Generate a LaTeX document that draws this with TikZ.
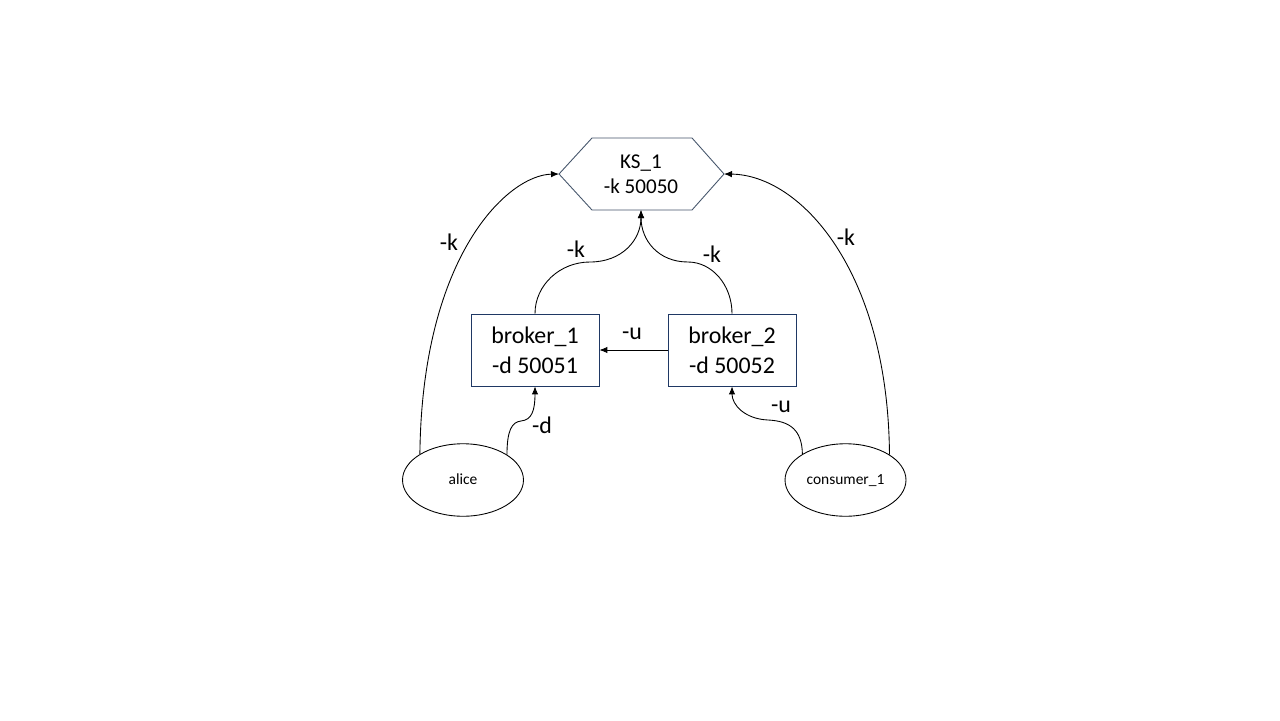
\documentclass[tikz,border=0pt]{standalone}
\usepackage{fontspec}
\setmainfont{Carlito}
\usetikzlibrary{shapes.geometric,arrows.meta}
\definecolor{boxline}{HTML}{1F3864}
\definecolor{hexline}{HTML}{44546A}
\begin{document}
\begin{tikzpicture}[x=0.02cm,y=-0.02cm,
  brokerbox/.style={draw=boxline,line width=0.5pt,minimum width=2.56cm,minimum height=1.44cm,inner sep=0pt,align=center,font=\fontsize{13.6}{17}\selectfont},
  clientell/.style={draw=black,line width=0.5pt,ellipse,minimum width=2.42cm,minimum height=1.45cm,inner sep=0pt,font=\fontsize{8.8}{10.5}\selectfont},
  conn/.style={draw=black,line width=0.5pt,-{Latex[length=1.6mm,width=1.3mm]}},
  lbl/.style={font=\fontsize{13.6}{16}\selectfont,inner sep=0pt}]
\useasboundingbox[fill=white] (0,0) rectangle (1280,720);
% key server hexagon
\node[align=center,font=\fontsize{12}{14.2}\selectfont,inner sep=0pt] (ks) at (641,174) {KS\_1\\-k 50050};
\draw[hexline,line width=0.5pt] (559,174) coordinate (ksW) -- (592,138) -- (692,138) -- (724,174) coordinate (ksE) -- (692,210) -- (592,210) -- cycle;
\coordinate (ksS) at (641,210);
% brokers
\node[brokerbox] (b1) at (535,350) {broker\_1\\-d 50051};
\node[brokerbox] (b2) at (732,350) {broker\_2\\-d 50052};
% clients
\node[clientell] (alice) at (463,480) {\raisebox{-2.5pt}[0pt][0pt]{alice}};
\node[clientell] (cons) at (845.5,480) {\raisebox{-2.5pt}[0pt][0pt]{consumer\_1}};
% connectors
\draw[conn] (alice.149) .. controls (422,255) and (508,175) .. (ksW);
\draw[conn] (cons.30) .. controls (888,270) and (800,175) .. (ksE);
\draw[conn] (b1.north) .. controls (535,285) and (560,262) .. (590,262) .. controls (622,262) and (641,240) .. (ksS);
\draw[conn] (b2.north) .. controls (732,285) and (712,262) .. (688,262) .. controls (658,262) and (641,240) .. (ksS);
\draw[conn] (b2.west) -- (b1.east);
\draw[conn] (alice.30) .. controls (507,430) and (512,422) .. (521,421) .. controls (532,420) and (535,410) .. (b1.south);
\draw[conn] (cons.149) .. controls (802,430) and (790,421) .. (768,420) .. controls (745,419) and (732,405) .. (b2.south);
% labels
\node[lbl] (l1) at (449,242) {-k};
\node[lbl] (l2) at (846,237) {-k};
\node[lbl] (l3) at (576,249) {-k};
\node[lbl] (l4) at (712,254) {-k};
\node[lbl] (l5) at (632,334) {-u};
\node[lbl] (l6) at (542,425) {-d};
\node[lbl] (l7) at (781,407) {-u};
\end{tikzpicture}
\end{document}
